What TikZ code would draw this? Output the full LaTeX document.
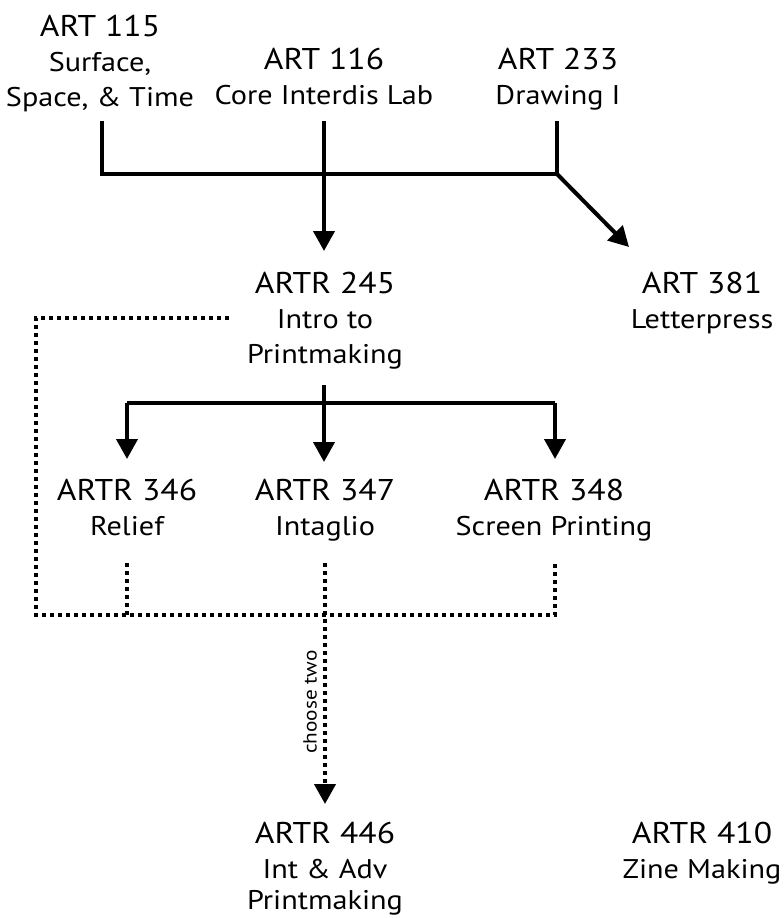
\documentclass[tikz,border=0pt]{standalone}
\usepackage{fontspec}
\setmainfont[FakeStretch=1.12]{PT Sans}
\usetikzlibrary{arrows.meta}
\tikzset{
  course/.style={align=center,inner sep=0pt,anchor=north,font=\fontsize{27}{35}\selectfont},
  solidline/.style={line width=4pt,line cap=butt,line join=miter},
  dotline/.style={line width=4pt,line cap=butt,dash pattern=on 4pt off 4pt},
  arr/.style={-{Triangle[width=21pt,length=20pt]}},
}
\newcommand{\ttl}[1]{{\fontsize{30}{35}\selectfont #1}}
\begin{document}
\begin{tikzpicture}[x=1pt,y=-1pt]
\useasboundingbox (0,0) rectangle (784,918);
% courses
\node[course] (a115) at (100,15) {\ttl{ART 115}\\Surface,\\Space, \& Time};
\node[course] (a116) at (324,48) {\ttl{ART 116}\\Core Interdis Lab};
\node[course] (a233) at (558,48) {\ttl{ART 233}\\Drawing I};
\node[course] (a381) at (702,272) {\ttl{ART 381}\\Letterpress};
\node[course] (r245) at (325,272) {\ttl{ARTR 245}\\Intro to\\Printmaking};
\node[course] (r346) at (127,479) {\ttl{ARTR 346}\\Relief};
\node[course] (r347) at (325,479) {\ttl{ARTR 347}\\Intaglio};
\node[course] (r348) at (554,479) {\ttl{ARTR 348}\\Screen Printing};
\node[course] (r446) at (325,822) {\ttl{ARTR 446}\\Int \& Adv\\[-4pt]Printmaking};
\node[course] (r410) at (702,822) {\ttl{ARTR 410}\\Zine Making};
% junction coordinates
\coordinate (s115) at (102,121);
\coordinate (c115) at (102,174);
\coordinate (s116) at (324,121);
\coordinate (t116) at (324,251);
\coordinate (s233) at (557,121);
\coordinate (j233) at (557,174);
\coordinate (t381) at (629,247);
\coordinate (s245) at (324,385);
\coordinate (t245) at (324,462);
\coordinate (bl) at (127,403);
\coordinate (br) at (555,403);
\coordinate (t346) at (127,459);
\coordinate (t348) at (555,459);
% solid connectors
\draw[solidline] (s115) -- (c115) -- (j233) -- (s233);
\draw[solidline,arr] (j233) -- (t381);
\draw[solidline,arr] (s116) -- (t116);
\draw[solidline,arr] (s245) -- (t245);
\draw[solidline,arr] (bl) -- (t346);
\draw[solidline,arr] (br) -- (t348);
\draw[solidline] (bl) -- (br);
% dotted connectors
\coordinate (d245) at (229,318);
\coordinate (dtl) at (36,318);
\coordinate (dbl) at (36,615);
\coordinate (dbr) at (555,615);
\coordinate (d346) at (127,563);
\coordinate (d346b) at (127,615);
\coordinate (d347) at (325,563);
\coordinate (d348) at (555,563);
\coordinate (t446) at (325,804);
\draw[dotline] (d245) -- (dtl) -- (dbl) -- (dbr) -- (d348);
\draw[dotline] (d346) -- (d346b);
\draw[dotline,arr] (d347) -- (t446);
\node[rotate=90,inner sep=0pt,font=\fontsize{19}{22}\selectfont] (lbl) at (310,702) {choose two};
\end{tikzpicture}
\end{document}
